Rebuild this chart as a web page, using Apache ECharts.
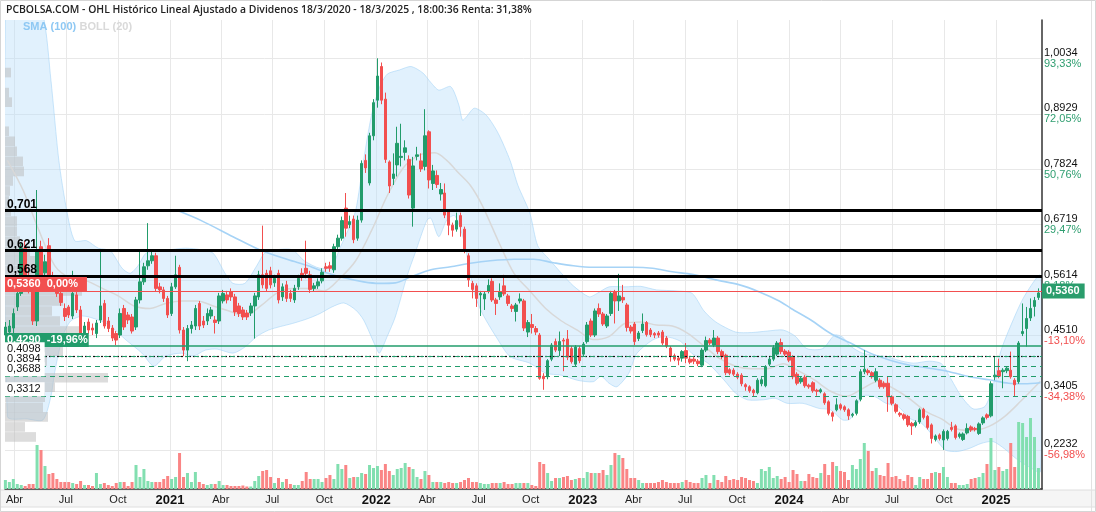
<!DOCTYPE html>
<html><head><meta charset="utf-8">
<script src="https://cdn.jsdelivr.net/npm/echarts@6/dist/echarts.min.js"></script>
<style>html,body{margin:0;padding:0;background:#fff}#c{width:1096px;height:512px}</style>
</head><body><div id="c"></div>
<script>
// ---- weekly candles [open, close, low, high], week 0 = 16/3/2020 ----
const c2020 = [
[.452,.468,.445,.478],[.458,.470,.448,.482],[.466,.495,.455,.505],[.508,.535,.500,.545],[.535,.625,.530,.635],
[.625,.567,.560,.640],[.567,.548,.535,.580],[.548,.480,.472,.556],[.480,.620,.470,.741],[.628,.568,.558,.640],
[.576,.598,.568,.612],[.630,.568,.560,.645],[.568,.548,.540,.578],[.555,.535,.528,.562],[.535,.517,.510,.545],
[.505,.489,.480,.515],[.508,.492,.486,.512],[.490,.535,.484,.580],[.532,.502,.496,.540],[.502,.456,.446,.510],
[.456,.470,.450,.478],[.478,.462,.455,.485],[.466,.462,.452,.475],[.455,.476,.446,.482],[.482,.510,.476,.620],
[.515,.470,.465,.522],[.480,.465,.458,.488],[.466,.446,.440,.472],[.455,.442,.432,.460],[.452,.495,.446,.505],
[.505,.468,.462,.512],[.492,.482,.474,.498],[.488,.460,.455,.494],[.468,.522,.462,.528],[.522,.558,.515,.620],
[.558,.588,.552,.596],[.590,.600,.582,.675],[.600,.610,.594,.622],[.610,.545,.538,.616],[.548,.542,.535,.556],
[.542,.525,.518,.548],[.525,.492,.486,.530]];
const c2021 = [
[.495,.548,.490,.556],[.548,.572,.544,.610],[.587,.462,.455,.592],[.462,.422,.410,.468],[.422,.465,.400,.472],
[.465,.472,.455,.480],[.470,.505,.462,.512],[.515,.470,.462,.520],[.480,.472,.466,.490],[.480,.495,.472,.505],
[.490,.502,.484,.508],[.482,.477,.455,.490],[.480,.530,.474,.536],[.520,.535,.515,.542],[.532,.522,.515,.540],
[.538,.528,.520,.545],[.528,.498,.490,.534],[.510,.495,.488,.516],[.502,.488,.482,.508],[.496,.488,.482,.502],
[.496,.510,.490,.516],[.510,.530,.445,.536],[.528,.572,.522,.580],[.572,.552,.545,.670],[.575,.545,.538,.582],
[.580,.552,.545,.588],[.556,.565,.548,.572],[.575,.522,.515,.582],[.528,.548,.520,.555],[.552,.525,.518,.560],
[.535,.525,.518,.542],[.522,.545,.516,.552],[.548,.565,.542,.572],[.575,.568,.560,.585],[.585,.575,.565,.640],
[.572,.543,.536,.580],[.545,.550,.538,.556],[.550,.558,.544,.565],[.560,.577,.555,.585],[.588,.585,.578,.596],
[.590,.585,.578,.598],[.582,.628,.576,.634],[.628,.645,.620,.652],[.645,.680,.640,.688],[.705,.665,.648,.735],
[.672,.678,.665,.690],[.683,.642,.635,.690],[.645,.681,.640,.690],[.681,.794,.676,.800],[.800,.785,.775,.812],
[.755,.849,.750,.855],[.849,.915,.840,.922]];
const c2022 = [
[.920,.968,.905,1.0034],[.987,.920,.912,.995],[.922,.802,.795,.935],[.797,.749,.735,.800],[.764,.773,.751,.814],
[.791,.834,.768,.867],[.806,.808,.788,.873],[.816,.825,.800,.840],[.802,.731,.724,.810],[.705,.789,.668,.807],
[.808,.811,.800,.827],[.799,.783,.777,.814],[.788,.849,.780,.902],[.857,.761,.744,.860],[.754,.779,.741,.791],
[.770,.752,.745,.780],[.733,.742,.720,.755],[.735,.691,.685,.754],[.698,.671,.651,.702],[.671,.661,.648,.676],
[.663,.680,.658,.696],[.690,.668,.648,.696],[.663,.621,.615,.668],[.610,.562,.548,.615],[.555,.543,.525,.560],
[.550,.525,.508,.555],[.532,.535,.490,.540],[.524,.534,.502,.538],[.539,.551,.535,.563],[.559,.522,.518,.565],
[.522,.515,.492,.526],[.528,.538,.522,.555],[.550,.534,.530,.572],[.530,.515,.510,.534],[.510,.505,.498,.514],
[.499,.512,.479,.516],[.520,.524,.515,.535],[.520,.466,.460,.524],[.458,.477,.448,.482],[.473,.467,.455,.494],
[.465,.458,.452,.470],[.452,.366,.363,.456],[.370,.365,.343,.376],[.369,.401,.364,.404],[.404,.432,.400,.436],
[.439,.422,.418,.445],[.421,.439,.410,.459],[.442,.440,.380,.446],[.444,.408,.402,.462],[.425,.399,.395,.430],
[.394,.428,.390,.432],[.425,.401,.396,.430]];
const c2023 = [
[.414,.434,.410,.438],[.439,.472,.435,.478],[.480,.452,.448,.485],[.452,.500,.448,.505],[.505,.494,.488,.515],
[.494,.474,.470,.498],[.470,.490,.466,.494],[.495,.535,.490,.540],[.538,.520,.475,.542],[.520,.530,.500,.574],
[.527,.522,.516,.552],[.512,.467,.459,.516],[.468,.460,.455,.472],[.474,.439,.432,.478],[.445,.456,.440,.460],
[.461,.474,.456,.495],[.477,.453,.449,.480],[.462,.453,.448,.466],[.455,.452,.446,.458],[.456,.452,.447,.460],
[.458,.436,.432,.462],[.446,.430,.426,.450],[.426,.410,.399,.430],[.411,.404,.400,.415],[.406,.402,.392,.410],
[.406,.419,.399,.422],[.421,.406,.396,.436],[.404,.398,.394,.408],[.404,.400,.394,.408],[.400,.395,.390,.404],
[.392,.422,.388,.426],[.422,.441,.418,.449],[.442,.436,.432,.446],[.432,.446,.428,.462],[.446,.419,.414,.450],
[.419,.409,.404,.423],[.412,.377,.372,.415],[.383,.376,.372,.386],[.382,.374,.370,.386],[.374,.368,.364,.378],
[.372,.355,.350,.376],[.353,.349,.341,.356],[.349,.341,.337,.352],[.342,.337,.329,.345],[.337,.362,.334,.366],
[.355,.363,.350,.368],[.351,.389,.348,.392],[.394,.404,.390,.408],[.404,.427,.400,.432],[.414,.436,.410,.440],
[.437,.419,.414,.445],[.420,.414,.410,.424]];
const c2024 = [
[.418,.402,.398,.422],[.408,.369,.364,.412],[.374,.356,.352,.378],[.359,.366,.355,.370],[.368,.351,.347,.372],
[.352,.349,.345,.355],[.357,.341,.337,.360],[.342,.340,.331,.345],[.339,.343,.336,.346],[.335,.317,.313,.338],
[.319,.296,.292,.322],[.297,.290,.280,.300],[.303,.313,.300,.326],[.313,.306,.302,.316],[.309,.303,.299,.312],
[.303,.291,.283,.306],[.292,.294,.288,.297],[.296,.321,.292,.324],[.324,.379,.320,.384],[.379,.384,.374,.422],
[.381,.377,.372,.385],[.377,.369,.365,.380],[.362,.379,.358,.386],[.362,.349,.345,.366],[.356,.349,.345,.360],
[.356,.329,.299,.369],[.329,.316,.312,.332],[.313,.300,.296,.316],[.296,.293,.289,.299],[.293,.286,.282,.296],
[.290,.273,.269,.293],[.276,.271,.253,.279],[.272,.278,.268,.282],[.279,.303,.275,.306],[.304,.288,.284,.307],
[.290,.268,.264,.293],[.273,.246,.236,.276],[.244,.251,.240,.254],[.253,.246,.242,.256],[.243,.260,.2232,.264],
[.246,.260,.242,.263],[.268,.264,.260,.279],[.271,.248,.244,.274],[.250,.255,.246,.258],[.244,.255,.241,.258],
[.257,.266,.254,.276],[.269,.263,.259,.272],[.266,.264,.260,.269],[.256,.275,.253,.278],[.277,.287,.273,.290],
[.293,.288,.284,.296],[.291,.355,.288,.360],[.369,.372,.362,.410]];
const c2025 = [
[.381,.370,.366,.405],[.379,.382,.346,.386],[.381,.386,.376,.390],[.382,.369,.365,.419],[.362,.353,.329,.366],
[.359,.436,.355,.440],[.455,.459,.450,.515],[.465,.485,.429,.508],[.486,.505,.480,.525],[.509,.521,.489,.528],
[.527,.536,.522,.545]];

// ---- weekly volume (relative units) ----
const v2020 = [9,7,10,5,4,3,5,5,44,39,23,15,16,10,7,7,7,6,5,8,4,4,3,16,5,6,4,3,6,7,7,3,7,24,12,20,8,7,7,7,10,13];
const v2021 = [10,12,36,12,16,7,17,7,5,4,5,5,8,4,4,3,3,3,3.5,2.5,2.5,8,13,18,19,12,6,11,7,10,5,4,4,8,17,10,10,10,7,11,14,10,25,20,24,11,12,12,16,15,24,21];
const v2022 = [23,19,25,18,14,20,21,26,22,20,12,10,18,14,7,7,7,6,7,6,6,7,9,11,7,7,6,5,5,6,6,6,7,5,5,6,6,6,6,4,3,27,25,16,8,11,11,12,13,9,10,11];
const v2023 = [11,17,16,16,16,19,14,24,36,34,31,20,11,11,9,6,6,6,6,7,9,7,6,6,6,7,9,7,6,6,11,14,6,14,9,7,13,9,10,9,12,11,9,8,6,20,18,22,11,13,10,12];
const v2024 = [7,19,15,8,8,15,12,11,16,25,14,27,23,18,17,9,24,20,30,46,38,18,21,14,13,26,12,13,10,8,14,12,4,12,10,10,16,17,16,22,12,6,6,4,4,5,10,11,12,16,25,51,19];
const v2025 = [22,18,20,46,22,67,66,52,71,52,21];

// ---- indicators: [week, value] ----
const bollUpper = [[0.5,1.25],[4.5,1.18],[9.5,1.09],[11.5,.96],[13.5,.80],[15.5,.70],[17.5,.64],[20.5,.64],[23.5,.625],[26.5,.62],[29.5,.585],[31.5,.575],[33.5,.59],[35.5,.615],[38.5,.62],[41.5,.622],[45.5,.625],[49.5,.622],[52.5,.615],[55.5,.575],[57.5,.555],[60.5,.555],[63.5,.59],[65.5,.615],[68.5,.622],[72.5,.622],[75.5,.60],[79.5,.585],[82.5,.59],[84.5,.625],[86.5,.66],[88.5,.70],[90.5,.80],[92.5,.89],[94.5,.945],[96.5,.972],[99.5,.98],[102.5,.987],[105.5,.974],[107.5,.955],[109.5,.94],[112.5,.947],[114.5,.912],[115.5,.88],[116.5,.887],[118.5,.904],[121.5,.89],[124.5,.854],[127.5,.80],[129.5,.75],[132.5,.695],[134.5,.63],[137.5,.602],[140.5,.575],[143.5,.55],[147.5,.528],[149.5,.535],[152.5,.548],[156.5,.548],[160.5,.549],[164.5,.542],[169.5,.54],[173.5,.535],[176.5,.50],[179.5,.478],[184.5,.458],[188.5,.457],[192.5,.46],[196.5,.462],[199.5,.45],[202.5,.425],[206.5,.425],[209.5,.452],[211.5,.448],[213.5,.43],[216.5,.416],[219.5,.412],[222.5,.409],[226.5,.40],[229.5,.396],[233.5,.40],[236.5,.395],[238.5,.37],[241.5,.33],[244.5,.305],[247.5,.31],[249.5,.35],[251.5,.42],[254.5,.48],[257.5,.53],[261.5,.57]];
const bollLower = [[0.5,.29],[5.5,.285],[9.5,.283],[11.5,.33],[12.5,.38],[14.5,.45],[16.5,.48],[19.5,.49],[23.5,.482],[26.5,.47],[30.5,.442],[34.5,.416],[37.5,.39],[40.5,.41],[44.5,.416],[47.5,.41],[50.5,.422],[53.5,.424],[57.5,.416],[60.5,.428],[63.5,.449],[66.5,.462],[69.5,.469],[72.5,.475],[76.5,.485],[79.5,.495],[82.5,.508],[85.5,.516],[88.5,.502],[90.5,.482],[93.5,.43],[94.5,.416],[96.5,.45],[98.5,.488],[101.5,.57],[103.5,.615],[106.5,.681],[107.5,.685],[109.5,.648],[111.5,.681],[113.5,.69],[115.5,.65],[116.5,.615],[118.5,.535],[120.5,.495],[124.5,.442],[127.5,.409],[132.5,.396],[136.5,.376],[140.5,.372],[144.5,.362],[148.5,.359],[150.5,.37],[152.5,.356],[154.5,.349],[157.5,.376],[159.5,.415],[163.5,.442],[166.5,.449],[170.5,.44],[173.5,.415],[177.5,.396],[181.5,.363],[184.5,.336],[187.5,.323],[191.5,.323],[194.5,.326],[197.5,.316],[201.5,.316],[205.5,.306],[208.5,.303],[211.5,.283],[213.5,.285],[216.5,.33],[219.5,.33],[222.5,.316],[225.5,.31],[228.5,.286],[231.5,.276],[234.5,.25],[237.5,.223],[240.5,.22],[243.5,.226],[246.5,.236],[249.5,.24],[252.5,.225],[255.5,.205],[258.5,.19],[261.5,.18]];
const bollMid = [[0.5,.80],[4.5,.74],[8.5,.66],[12.5,.59],[16.5,.565],[20.5,.56],[24.5,.545],[28.5,.53],[32.5,.51],[36.5,.505],[40.5,.515],[44.5,.52],[48.5,.52],[52.5,.51],[56.5,.50],[60.5,.49],[64.5,.51],[68.5,.535],[72.5,.545],[76.5,.545],[80.5,.54],[84.5,.565],[88.5,.60],[92.5,.66],[96.5,.73],[100.5,.785],[104.5,.81],[108.5,.815],[111.5,.80],[114.5,.775],[117.5,.75],[120.5,.71],[124.5,.64],[128.5,.575],[132.5,.54],[136.5,.505],[140.5,.48],[144.5,.462],[148.5,.443],[152.5,.449],[156.5,.475],[160.5,.478],[164.5,.472],[168.5,.47],[172.5,.455],[176.5,.43],[180.5,.405],[184.5,.39],[188.5,.385],[192.5,.385],[196.5,.395],[200.5,.38],[204.5,.362],[208.5,.34],[212.5,.33],[216.5,.345],[220.5,.36],[224.5,.345],[228.5,.325],[232.5,.30],[236.5,.285],[240.5,.265],[244.5,.262],[248.5,.27],[252.5,.29],[256.5,.32],[261.5,.36]];
const sma100 = [[43.5,.70],[49.5,.68],[57.5,.648],[64.5,.621],[71.5,.602],[76.5,.59],[81.5,.575],[85.5,.566],[90.5,.558],[94.5,.555],[98.5,.556],[102.5,.568],[107.5,.582],[112.5,.588],[117.5,.595],[122.5,.60],[128.5,.603],[133.5,.603],[138.5,.596],[143.5,.59],[148.5,.587],[153.5,.587],[158.5,.587],[163.5,.585],[168.5,.578],[173.5,.573],[179.5,.562],[185.5,.552],[190.5,.538],[195.5,.52],[198.5,.505],[203.5,.482],[208.5,.455],[213.5,.436],[218.5,.416],[223.5,.402],[228.5,.392],[233.5,.386],[238.5,.379],[243.5,.369],[248.5,.363],[253.5,.356],[257.5,.355],[261.5,.357]];

// ---- volume-by-price profile ----
const profPrices = [.975,.935,.916,.858,.838,.818,.798,.778,.759,.739,.719,.699,.679,.659,.639,.619,.600,.580,.560,.540,.520,.500,.480,.460,.440,.420,.400,.383,.367,.348,.328,.308,.289,.269,.249];
const profVolumes = [6,4,7,4,10,12,18,19,8,5,4,6,12,12,15,25,30,45,60,77,58,47,55,75,78,58,42,38,103,50,40,38,43,20,31];

// ---- axis ticks ----
const xTickPos = [2.286,15.286,28.429,41.571,54.429,67.429,80.571,93.714,106.571,119.571,132.714,145.857,158.714,171.714,184.857,198,211,224,237.143,250.286];
const xTickLabels = ['Abr','Jul','Oct','2021','Abr','Jul','Oct','2022','Abr','Jul','Oct','2023','Abr','Jul','Oct','2024','Abr','Jul','Oct','2025'];
const yTickVals = [1.0034,0.8929,0.7824,0.6719,0.5614,0.4510,0.3405,0.2232];
const yTickText = ['1,0034','0,8929','0,7824','0,6719','0,5614','0,4510','0,3405','0,2232'];
const yTickPct = ['93,33%','72,05%','50,76%','29,47%','8,18%','-13,10%','-34,38%','-56,98%'];

// ---- horizontal levels ----
const resistLevels = [0.701, 0.621, 0.568];
const resistText = ['0,701','0,621','0,568'];
const supportLevels = [0.4098, 0.3894, 0.3688, 0.3312];
const supportText = ['0,4098','0,3894','0,3688','0,3312'];
const lastPrice = 0.536, lastText = '0,5360', lastPct = '0,00%';
const refPrice = 0.429, refText = '0,4290', refPct = '-19,96%';

const TITLE = 'PCBOLSA.COM - OHL Histórico Lineal Ajustado a Dividenos 18/3/2020 - 18/3/2025 , 18:00:36 Renta: 31,38%';

const GREEN = '#229c6b', RED = '#f24f4f', VOL_G = '#82dfb0', VOL_R = '#fa8585';
const FONT = '"Liberation Sans", Arial, sans-serif';
const PRICE_MIN = 0.1453, PRICE_MAX = 1.0797, PROF_HALF = 0.0096;

const candles = [].concat(c2020, c2021, c2022, c2023, c2024, c2025);
const volumes = [].concat(v2020, v2021, v2022, v2023, v2024, v2025);
const candleData = candles.map((d, i) => [i, d[0], d[1], d[2], d[3]]);
const volData = volumes.map((v, i) => ({ value: [i, v], itemStyle: { color: candles[i][1] >= candles[i][0] ? VOL_G : VOL_R } }));
const profData = profPrices.map((p, i) => [profVolumes[i], p]);

function near(a, b) { return Math.abs(a - b) < 1e-4; }

const chart = echarts.init(document.getElementById('c'), null, { renderer: 'canvas' });

const markData = [];
resistLevels.forEach((v, k) => markData.push({
  yAxis: v, lineStyle: { color: '#000', width: 3, type: 'solid' },
  label: { show: true, position: 'insideStartTop', distance: [2, 0], formatter: resistText[k], color: '#000', fontSize: 12, fontWeight: 'bold', fontFamily: FONT }
}));
markData.push({
  yAxis: lastPrice, lineStyle: { color: RED, width: 1.2, type: 'solid' },
  label: { show: true, position: 'insideStartTop', distance: [0, 0], formatter: lastText + '  ' + lastPct, color: '#fff', fontSize: 11, fontWeight: 'bold', fontFamily: FONT, backgroundColor: RED, padding: [1, 9, 1, 2], lineHeight: 12 }
});
markData.push({
  yAxis: lastPrice, lineStyle: { color: 'rgba(0,0,0,0)', width: 1 },
  label: { show: true, position: 'end', distance: 0, formatter: lastText, color: '#fff', fontSize: 11, fontWeight: 'bold', fontFamily: FONT, backgroundColor: '#2a9d6c', padding: [2, 5, 2, 4], lineHeight: 11 }
});
markData.push({
  yAxis: refPrice, lineStyle: { color: GREEN, width: 1.5, type: 'solid' },
  label: { show: true, position: 'insideStartTop', distance: [0, -1], formatter: refText + '  ' + refPct, color: '#fff', fontSize: 11, fontWeight: 'bold', fontFamily: FONT, backgroundColor: GREEN, padding: [1, 1, 1, 2], lineHeight: 12 }
});
markData.push({
  yAxis: supportLevels[0], lineStyle: { color: '#111', width: 1.2, type: [2, 2] }, label: { show: false }
});
supportLevels.forEach((v, k) => markData.push({
  yAxis: v, lineStyle: { color: GREEN, width: 1.2, type: [5, 4] },
  label: { show: true, position: 'insideStartTop', distance: [0, 0], formatter: supportText[k], color: '#111', fontSize: 11, fontFamily: FONT, backgroundColor: '#fff', padding: [1, 4, 1, 2], lineHeight: 12 }
}));

chart.setOption({
  animation: false,
  backgroundColor: '#fff',
  grid: { left: 5, right: 54, top: 20, bottom: 23, containLabel: false },
  xAxis: [{
    type: 'value', min: -0.1, max: 261.9, position: 'bottom',
    axisLine: { show: true, onZero: false, lineStyle: { color: '#333', width: 1.5 } },
    axisTick: { show: false, customValues: xTickPos },
    splitLine: { show: true, lineStyle: { color: '#e8e8e8', width: 1 } },
    axisLabel: {
      customValues: xTickPos, margin: 4, fontFamily: FONT,
      formatter: function (val) {
        const k = xTickPos.findIndex(p => Math.abs(p - val) < 1e-3);
        if (k < 0) return '';
        const t = xTickLabels[k];
        return /^\d{4}$/.test(t) ? '{y|' + t + '}' : '{m|' + t + '}';
      },
      rich: {
        m: { fontSize: 11, color: '#222', fontFamily: FONT, lineHeight: 14 },
        y: { fontSize: 13, fontWeight: 'bold', color: '#111', fontFamily: FONT, lineHeight: 14 }
      }
    }
  }, {
    type: 'value', min: 0, max: 1037, show: false, position: 'top'
  }],
  yAxis: [{
    type: 'value', position: 'right', min: PRICE_MIN, max: PRICE_MAX, scale: true,
    axisLine: { show: true, onZero: false, lineStyle: { color: '#333', width: 1.5 } },
    axisTick: { show: false, customValues: yTickVals },
    splitLine: { show: true, lineStyle: { color: '#e8e8e8', width: 1 } },
    axisLabel: {
      customValues: yTickVals, margin: 2, fontFamily: FONT,
      formatter: function (val) {
        const k = yTickVals.findIndex(p => near(p, val));
        if (k < 0) return '';
        const neg = yTickPct[k].charAt(0) === '-';
        return '{p|' + yTickText[k] + '}\n{' + (neg ? 'r' : 'g') + '|' + yTickPct[k] + '}';
      },
      rich: {
        p: { fontSize: 11, color: '#111', fontFamily: FONT, lineHeight: 11 },
        g: { fontSize: 11, color: '#2f9e70', fontFamily: FONT, lineHeight: 11 },
        r: { fontSize: 11, color: '#f24f4f', fontFamily: FONT, lineHeight: 11 }
      }
    }
  }, {
    type: 'value', min: 0, max: 469, show: false
  }],
  series: [
    {
      type: 'custom', name: 'BOLL band', xAxisIndex: 0, yAxisIndex: 0, z: 0, silent: true, clip: true,
      data: [0],
      renderItem: function (params, api) {
        const pts = bollUpper.map(p => api.coord(p)).concat(bollLower.slice().reverse().map(p => api.coord(p)));
        return { type: 'polygon', shape: { points: pts, smooth: 0.25 }, style: { fill: 'rgba(183,222,250,0.42)', stroke: 'rgba(160,210,245,0.55)', lineWidth: 1 } };
      }
    },
    {
      type: 'custom', name: 'profile', xAxisIndex: 1, yAxisIndex: 0, z: 1, silent: true,
      encode: { x: 0, y: 1 },
      data: profData,
      renderItem: function (params, api) {
        const v = api.value(0), p = api.value(1);
        const a = api.coord([0, p + PROF_HALF]);
        const b = api.coord([v, p - PROF_HALF]);
        return { type: 'rect', shape: { x: a[0], y: a[1], width: b[0] - a[0], height: b[1] - a[1] }, style: { fill: 'rgba(185,185,185,0.5)' } };
      }
    },
    {
      type: 'line', name: 'BOLL mid', xAxisIndex: 0, yAxisIndex: 0, z: 2, data: bollMid, showSymbol: false, smooth: 0.3, silent: true,
      lineStyle: { color: '#d8d8d8', width: 1.5 }
    },
    {
      type: 'line', name: 'SMA 100', xAxisIndex: 0, yAxisIndex: 0, z: 2, data: sma100, showSymbol: false, smooth: 0.3, silent: true,
      lineStyle: { color: '#a6d3f6', width: 1.6 }
    },
    {
      type: 'bar', name: 'Volumen', xAxisIndex: 0, yAxisIndex: 1, z: 2, barWidth: 3, data: volData, silent: true
    },
    {
      type: 'candlestick', name: 'OHL', xAxisIndex: 0, yAxisIndex: 0, z: 3, barWidth: 3,
      encode: { x: 0, y: [1, 2, 3, 4] },
      data: candleData,
      itemStyle: { color: GREEN, color0: RED, borderColor: GREEN, borderColor0: RED, borderWidth: 1 },
      markLine: { silent: true, symbol: ['none', 'none'], animation: false, z: 5, data: markData }
    }
  ],
  graphic: [
    { type: 'rect', z: -1, silent: true, shape: { x: 0, y: 490, width: 1096, height: 17 }, style: { fill: '#f5f5f5', stroke: '#dedede', lineWidth: 1 } },
    { type: 'text', x: 6, y: 5, z: 10, style: { text: TITLE, font: '600 10.4px "Open Sans"', fill: '#222' } },
    { type: 'text', x: 23, y: 21, z: 10, style: { text: '{a|SMA (100)} {b|BOLL (20)}', rich: { a: { font: 'bold 11px "Liberation Sans"', fill: '#8ec8f3' }, b: { font: 'bold 11px "Liberation Sans"', fill: '#d9d9d9' } } } },
    { type: 'line', z: 10, silent: true, shape: { x1: 1091.5, y1: 0, x2: 1091.5, y2: 512 }, style: { stroke: '#e2e2e2', lineWidth: 1 } },
    { type: 'rect', z: 20, silent: true, shape: { x: 0.5, y: 0.5, width: 1095, height: 511 }, style: { fill: 'none', stroke: '#d5d5d5', lineWidth: 1 } }
  ]
});
</script>
</body></html>
